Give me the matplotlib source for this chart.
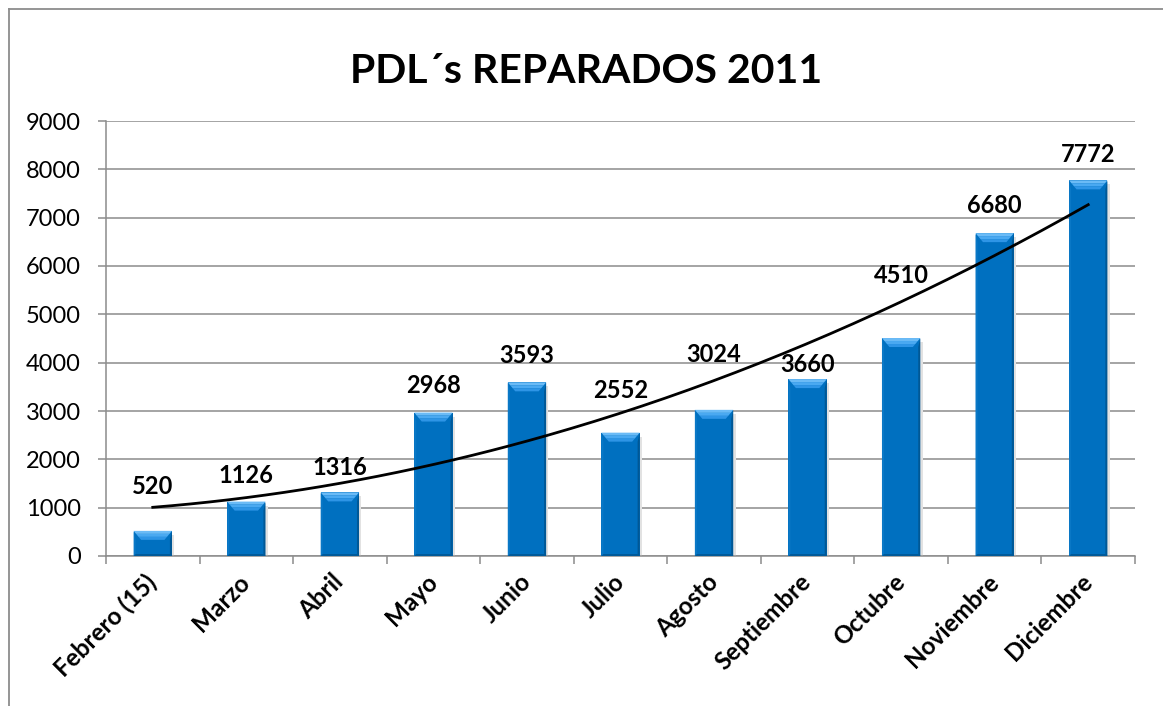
import numpy as np
import matplotlib
matplotlib.use("Agg")
import matplotlib.pyplot as plt
from matplotlib.patches import Polygon
from matplotlib.lines import Line2D

meses = ["Febrero (15)", "Marzo", "Abril", "Mayo", "Junio", "Julio",
         "Agosto", "Septiembre", "Octubre", "Noviembre", "Diciembre"]
reparados = [520, 1126, 1316, 2968, 3593, 2552, 3024, 3660, 4510, 6680, 7772]
# baseline of each value label (data units), as placed in the original
label_base = [1283, 1510, 1676, 3373, 3993, 3269, 4014, 3807, 5649, 7097, 8152]

plt.rcParams['font.family'] = ['Lato', 'DejaVu Sans']

fig = plt.figure(figsize=(11.63, 7.06), dpi=100)
ax = fig.add_axes([106/1163, 1-556/706, (1135-106)/1163, (556-121)/706])

x = np.arange(1, len(meses)+1)
bw = 0.41
h = bw/2
ax.bar(x, reparados, width=bw, color='#0070C0', zorder=3)

# bevel look on the bars
px_y = 9000/435
dxt = 0.08
dyt = 9*px_y
dxs = 0.022
bands = ['#6BBBF6', '#4AA9F1', '#2E95E6']
for xi, v in zip(x, reparados):
    # soft shadow
    ax.add_patch(Polygon([(xi-h+0.02, -2*px_y), (xi+h+0.025, -2*px_y), (xi+h+0.025, v-4*px_y),
                          (xi+h, v-4*px_y), (xi+h, 0), (xi-h+0.02, 0)],
                         closed=True, color='#E2E2E2', lw=0, zorder=2))
    ax.add_patch(Polygon([(xi-h, 0), (xi-h, v), (xi-h+dxs, v-dyt), (xi-h+dxs, 0)],
                         closed=True, color='#0A78C6', lw=0, zorder=4))
    ax.add_patch(Polygon([(xi+h, 0), (xi+h, v), (xi+h-dxs, v-dyt), (xi+h-dxs, 0)],
                         closed=True, color='#005896', lw=0, zorder=4))
    ax.add_patch(Polygon([(xi-h, 0), (xi+h, 0), (xi+h-dxs, 2*px_y), (xi-h+dxs, 2*px_y)],
                         closed=True, color='#005A9A', lw=0, zorder=4))
    for k, c in enumerate(bands):
        f0 = k/len(bands)
        f1 = (k+1)/len(bands)
        poly = [(xi-h+dxt*f0, v-dyt*f0), (xi+h-dxt*f0, v-dyt*f0),
                (xi+h-dxt*f1, v-dyt*f1), (xi-h+dxt*f1, v-dyt*f1)]
        ax.add_patch(Polygon(poly, closed=True, color=c, lw=0, zorder=4))

for xi, v, lb in zip(x, reparados, label_base):
    ax.text(xi, lb, str(v), ha='center', va='baseline', fontsize=17,
            fontweight='bold', color='black', zorder=6)

# polynomial trend line (order 2)
coef = np.polyfit(x, reparados, 2)
xt = np.linspace(1, 11, 200)
ax.plot(xt, np.polyval(coef, xt), color='black', lw=2.0, zorder=5)

ax.set_xlim(0.5, 11.5)
ax.set_ylim(0, 9000)
ax.set_yticks(range(0, 9001, 1000))
ax.yaxis.grid(True, color='#8C8C8C', lw=1.1, zorder=0)
ax.set_axisbelow(True)

ax.set_xticks(x)
ax.set_xticklabels(meses, rotation=45, ha='right', va='center',
                   rotation_mode='anchor', fontsize=17.5, fontweight='bold')
ax.set_xticks(np.arange(0.5, 12, 1), minor=True)
ax.tick_params(axis='x', which='major', length=0, pad=16)
ax.tick_params(axis='x', which='minor', length=6, width=1.1, color='#8C8C8C', direction='out')
ax.tick_params(axis='y', length=6, width=1.1, color='#8C8C8C', pad=12, labelsize=17)

for s in ['top', 'right']:
    ax.spines[s].set_visible(False)
for s in ['left', 'bottom']:
    ax.spines[s].set_color('#8C8C8C')
    ax.spines[s].set_linewidth(1.1)

fig.text(586/1163, 1-83/706, "PDL\u00b4s REPARADOS 2011", ha='center', va='baseline',
         fontsize=29.5, fontweight='bold')

# chart area border
fig.add_artist(Line2D([9/1163, 9/1163], [0, 1-8.5/706], color='#8C8C8C', lw=1.3,
                      transform=fig.transFigure))
fig.add_artist(Line2D([9/1163, 1], [1-8.5/706, 1-8.5/706], color='#8C8C8C', lw=1.3,
                      transform=fig.transFigure))

fig.savefig("out.png", dpi=100)
